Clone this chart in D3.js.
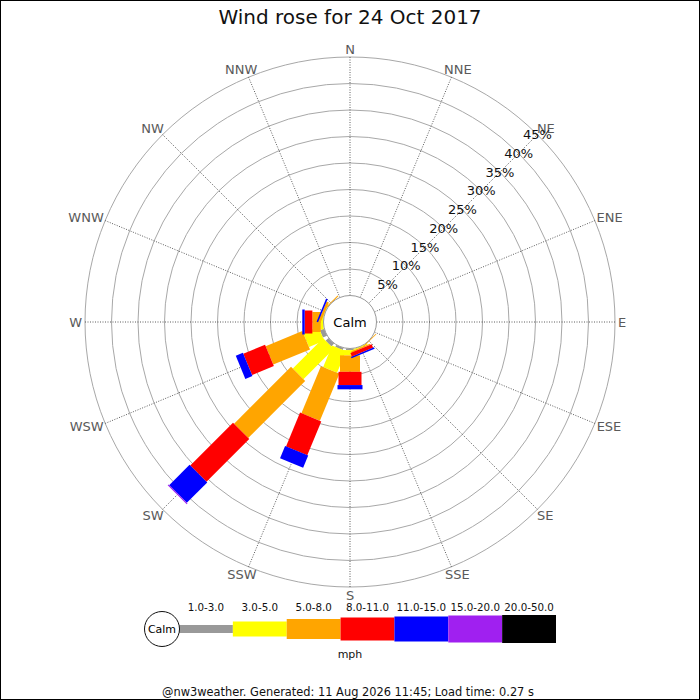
<!DOCTYPE html>
<html>
<head>
<meta charset="utf-8">
<script src="https://cdn.jsdelivr.net/npm/d3@7"></script>
<style>
  body { margin: 0; background: #fff; }
  text { font-family: "DejaVu Sans", sans-serif; }
</style>
</head>
<body>
<svg id="rose"></svg>
<script>
// Wind directions, clockwise from north
const directions = ["N", "NNE", "NE", "ENE", "E", "ESE", "SE", "SSE",
                    "S", "SSW", "SW", "WSW", "W", "WNW", "NW", "NNW"];
// Speed classes (mph) and their colours
const speedClasses = ["1.0-3.0", "3.0-5.0", "5.0-8.0", "8.0-11.0", "11.0-15.0", "15.0-20.0", "20.0-50.0"];
const classColors = ["#999999", "#ffff00", "#ffa500", "#ff0000", "#0000ff", "#a020f0", "#000000"];

// Percent of time per direction, one array per speed class
const pct1to3   = [0, 0, 0, 0, 0, 0, 0,    0,   0.3, 0.4, 0.75, 0.85, 0,    0,    0,   0];
const pct3to5   = [0, 0, 0, 0, 0, 0, 0,    0.2, 1.0, 4.4, 8.1,  3.1,  0.5,  0.1,  0,   0];
const pct5to8   = [0, 0, 0, 0, 0, 0, 0.15, 0.25,3.1, 9.6, 15.2, 7.5,  1.6,  0.45, 0.2, 0];
const pct8to11  = [0, 0, 0, 0, 0, 0, 0,    0.7, 2.5, 6.9, 11.4, 4.45, 1.45, 0,    0,   0];
const pct11to15 = [0, 0, 0, 0, 0, 0, 0,    0.3, 0.8, 2.5, 5.45, 1.45, 0.45, 0.3,  0,   0];
const pct15to20 = [0, 0, 0, 0, 0, 0, 0,    0,   0,   0,   0.2,  0,    0,    0,    0,   0];
const pct20to50 = [0, 0, 0, 0, 0, 0, 0,    0,   0,   0,   0,    0,    0,    0,    0,   0];

const ringTicks = [5, 10, 15, 20, 25, 30, 35, 40, 45];

const W = 700, H = 700;
const cx = 350, cy = 322;
const calmR = 26.5, outerR = 265;
const barWidths = [8, 15, 20, 23, 25, 27, 28]; // thickness per speed class

const series = [pct1to3, pct3to5, pct5to8, pct8to11, pct11to15, pct15to20, pct20to50];
const table = directions.map((dir, i) => {
    const row = { dir, angle: i * 22.5 };
    speedClasses.forEach((k, j) => row[k] = series[j][i]);
    return row;
});

const svg = d3.select("#rose").attr("width", W).attr("height", H);

// frame
svg.append("rect")
    .attr("x", 0.5).attr("y", 0.5)
    .attr("width", W - 1).attr("height", H - 1)
    .attr("fill", "#fff").attr("stroke", "#000");

svg.append("text")
    .attr("x", 350).attr("y", 24)
    .attr("text-anchor", "middle")
    .attr("font-size", 20)
    .attr("fill", "#111")
    .text("Wind rose for 24 Oct 2017");

const r = d3.scaleLinear().domain([0, 45]).range([calmR, outerR]);
const plot = svg.append("g").attr("transform", `translate(${cx},${cy})`);

// rings
plot.selectAll(".ring")
    .data(ringTicks)
    .enter().append("circle")
    .attr("r", d => r(d))
    .attr("fill", "none")
    .attr("stroke", "#a8a8a8")
    .attr("stroke-width", 1);

// spokes
const rad = a => (a - 90) * Math.PI / 180;
plot.selectAll(".spoke")
    .data(table)
    .enter().append("line")
    .attr("x1", d => r(0) * Math.cos(rad(d.angle)))
    .attr("y1", d => r(0) * Math.sin(rad(d.angle)))
    .attr("x2", d => r(45) * Math.cos(rad(d.angle)))
    .attr("y2", d => r(45) * Math.sin(rad(d.angle)))
    .attr("stroke", "#333")
    .attr("stroke-width", 0.8)
    .attr("stroke-dasharray", "1,1.5");

// direction labels, pushed out so the box sits just outside the outer ring
const dirLabels = plot.selectAll(".dirlabel")
    .data(table)
    .enter().append("text")
    .attr("text-anchor", "middle")
    .attr("dominant-baseline", "central")
    .attr("font-size", 13)
    .attr("fill", "#5a5a5a")
    .text(d => d.dir);
dirLabels.each(function (d) {
    const w = this.getComputedTextLength();
    const s = Math.sin(d.angle * Math.PI / 180), c = Math.cos(d.angle * Math.PI / 180);
    const R = r(45) + 3;
    d3.select(this)
        .attr("x", R * s + s * w / 2)
        .attr("y", -R * c - c * 5);
});

// stacked bars, one layer per speed class
const stack = d3.stack().keys(speedClasses);
const layers = stack(table);

layers.forEach((layer, j) => {
    plot.append("g")
        .selectAll("rect")
        .data(layer.filter(d => d[1] - d[0] > 0))
        .enter().append("rect")
        .attr("transform", d => `rotate(${d.data.angle})`)
        .attr("x", -barWidths[j] / 2)
        .attr("y", d => -r(d[1]))
        .attr("width", barWidths[j])
        .attr("height", d => r(d[1]) - r(d[0]))
        .attr("fill", classColors[j]);
});

// calm circle
plot.append("circle")
    .attr("r", calmR)
    .attr("fill", "#fff")
    .attr("stroke", "#999");
plot.append("text")
    .attr("text-anchor", "middle")
    .attr("dominant-baseline", "central")
    .attr("font-size", 13)
    .text("Calm");

// ring labels along NE
plot.selectAll(".ringlabel")
    .data(ringTicks)
    .enter().append("text")
    .attr("x", d => r(d) * Math.SQRT1_2)
    .attr("y", d => -r(d) * Math.SQRT1_2)
    .attr("text-anchor", "middle")
    .attr("dominant-baseline", "central")
    .attr("font-size", 13)
    .attr("fill", "#111")
    .text(d => d + "%");

// legend
const legendY = 629;
const lx = d3.scaleBand().domain(speedClasses).range([179, 556]);
const legend = svg.append("g");

legend.selectAll("rect")
    .data(speedClasses)
    .enter().append("rect")
    .attr("x", d => lx(d))
    .attr("y", (d, i) => legendY - barWidths[i] / 2)
    .attr("width", lx.bandwidth())
    .attr("height", (d, i) => barWidths[i])
    .attr("fill", (d, i) => classColors[i]);

legend.selectAll(".lbl")
    .data(speedClasses)
    .enter().append("text")
    .attr("x", d => lx(d) + lx.bandwidth() / 2)
    .attr("y", 611)
    .attr("text-anchor", "middle")
    .attr("font-size", 10.3)
    .attr("fill", "#111")
    .text(d => d);

legend.append("circle")
    .attr("cx", 162).attr("cy", legendY).attr("r", 17.5)
    .attr("fill", "#fff").attr("stroke", "#111");
legend.append("text")
    .attr("x", 162).attr("y", legendY)
    .attr("text-anchor", "middle")
    .attr("dominant-baseline", "central")
    .attr("font-size", 11)
    .text("Calm");

legend.append("text")
    .attr("x", 350).attr("y", 658)
    .attr("text-anchor", "middle")
    .attr("font-size", 11)
    .attr("fill", "#111")
    .text("mph");

svg.append("text")
    .attr("x", 348).attr("y", 696)
    .attr("text-anchor", "middle")
    .attr("font-size", 11.4)
    .attr("fill", "#111")
    .text("@nw3weather. Generated: 11 Aug 2026 11:45; Load time: 0.27 s");
</script>
</body>
</html>
